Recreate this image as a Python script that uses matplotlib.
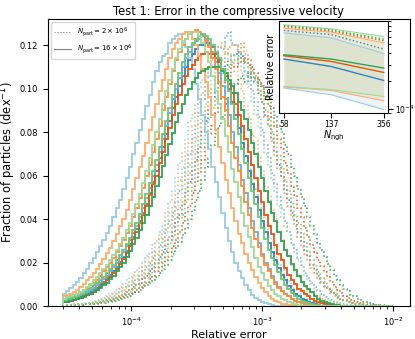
import numpy as np
import matplotlib.pyplot as plt
from matplotlib.lines import Line2D

# histogram bins (relative error), shared by all curves
n_bins = 100
err_min, err_max = 3e-5, 1e-2

# colours: kernel (blue / orange / green), shade = N_ngh (dark 58, mid 137, light 356)
colors = {
    'blue': ['#3182bd', '#6baed6', '#9ecae1'],
    'orange': ['#e6550d', '#fd8d3c', '#fdae6b'],
    'green': ['#31a354', '#74c476', '#a1d99b'],
}

# N_part = 16e6 (solid), fraction per dex in each bin, trailing zeros dropped
hi_blue_356 = [0.0055, 0.0068, 0.0083, 0.0098, 0.0113, 0.013, 0.015, 0.017, 0.0198, 0.0223, 0.0248, 0.0275,
               0.0305, 0.0338, 0.037, 0.041, 0.045, 0.049, 0.054, 0.059, 0.064, 0.070, 0.075, 0.081, 0.086, 0.092,
               0.097, 0.103, 0.108, 0.112, 0.115, 0.116, 0.121, 0.123, 0.124, 0.125, 0.122, 0.119, 0.114, 0.109,
               0.102, 0.095, 0.088, 0.080, 0.072, 0.064, 0.057, 0.050, 0.043, 0.036, 0.030, 0.025, 0.020, 0.016,
               0.013, 0.0095, 0.0073, 0.0053, 0.0038, 0.0026, 0.0019, 0.0013, 0.0009, 0.0005]
hi_orange_356 = [0.0045, 0.005, 0.0057, 0.0065, 0.0075, 0.0088, 0.0103, 0.0118, 0.0133, 0.015, 0.017, 0.0193,
                 0.0218, 0.0243, 0.0268, 0.0298, 0.0333, 0.0368, 0.040, 0.044, 0.049, 0.054, 0.059, 0.064, 0.069,
                 0.075, 0.081, 0.087, 0.093, 0.099, 0.104, 0.109, 0.114, 0.118, 0.121, 0.123, 0.125, 0.126, 0.126,
                 0.123, 0.120, 0.115, 0.109, 0.103, 0.096, 0.088, 0.081, 0.073, 0.066, 0.058, 0.052, 0.045, 0.039,
                 0.033, 0.029, 0.024, 0.020, 0.0165, 0.0135, 0.0108, 0.0083, 0.0063, 0.0048, 0.0035, 0.0025,
                 0.0018, 0.0012, 0.0009, 0.0006, 0.0004]
hi_green_356 = [0.0035, 0.004, 0.0047, 0.0053, 0.0058, 0.0065, 0.0075, 0.0088, 0.0103, 0.0118, 0.0133, 0.015,
                0.017, 0.019, 0.021, 0.0233, 0.0258, 0.0285, 0.0315, 0.0348, 0.0383, 0.0423, 0.0468, 0.0515,
                0.0565, 0.062, 0.068, 0.074, 0.080, 0.086, 0.093, 0.099, 0.104, 0.109, 0.114, 0.118, 0.121, 0.123,
                0.125, 0.126, 0.126, 0.124, 0.121, 0.117, 0.112, 0.106, 0.099, 0.093, 0.086, 0.078, 0.071, 0.063,
                0.057, 0.050, 0.043, 0.037, 0.032, 0.027, 0.022, 0.018, 0.015, 0.0118, 0.0093, 0.0073, 0.0058,
                0.0045, 0.0035, 0.0026, 0.0019, 0.0013, 0.0009, 0.0005]
hi_blue_137 = [0.0026, 0.003, 0.0033, 0.0038, 0.0043, 0.0049, 0.0056, 0.0065, 0.0075, 0.0085, 0.0095, 0.0108,
               0.0123, 0.014, 0.016, 0.018, 0.020, 0.0223, 0.0248, 0.0275, 0.0305, 0.0338, 0.037, 0.041, 0.045,
               0.0495, 0.0545, 0.060, 0.065, 0.071, 0.077, 0.083, 0.089, 0.095, 0.100, 0.105, 0.110, 0.114, 0.117,
               0.120, 0.122, 0.123, 0.124, 0.123, 0.120, 0.117, 0.112, 0.107, 0.101, 0.095, 0.088, 0.080, 0.073,
               0.065, 0.058, 0.052, 0.045, 0.039, 0.034, 0.029, 0.024, 0.020, 0.017, 0.0138, 0.0113, 0.009, 0.007,
               0.0055, 0.0045, 0.0035, 0.0025, 0.0018, 0.0013, 0.0009, 0.0006, 0.0004]
hi_orange_137 = [0.0035, 0.004, 0.0047, 0.0053, 0.0058, 0.0065, 0.0075, 0.0085, 0.0095, 0.0108, 0.012, 0.014,
                 0.016, 0.018, 0.020, 0.0223, 0.0248, 0.0275, 0.0305, 0.0338, 0.037, 0.041, 0.045, 0.0495, 0.0545,
                 0.060, 0.065, 0.071, 0.077, 0.083, 0.090, 0.096, 0.102, 0.108, 0.113, 0.117, 0.120, 0.123, 0.125,
                 0.126, 0.127, 0.126, 0.125, 0.122, 0.119, 0.114, 0.109, 0.103, 0.096, 0.090, 0.083, 0.075, 0.068,
                 0.062, 0.055, 0.048, 0.042, 0.036, 0.031, 0.027, 0.023, 0.019, 0.016, 0.0128, 0.010, 0.0083,
                 0.0068, 0.0055, 0.0045, 0.0035, 0.0025, 0.0018, 0.0013, 0.0009, 0.0006, 0.0004]
hi_green_137 = [0.0026, 0.0031, 0.0037, 0.0043, 0.0048, 0.0055, 0.0065, 0.0075, 0.0085, 0.0095, 0.0105, 0.0118,
                0.0133, 0.015, 0.017, 0.019, 0.021, 0.0233, 0.0258, 0.0285, 0.0315, 0.0348, 0.0383, 0.0423,
                0.0468, 0.0515, 0.0565, 0.062, 0.067, 0.073, 0.079, 0.085, 0.091, 0.097, 0.102, 0.107, 0.112,
                0.116, 0.119, 0.121, 0.123, 0.124, 0.125, 0.124, 0.123, 0.120, 0.117, 0.114, 0.109, 0.104, 0.099,
                0.093, 0.086, 0.079, 0.072, 0.066, 0.059, 0.053, 0.047, 0.041, 0.036, 0.031, 0.026, 0.022, 0.019,
                0.0155, 0.0125, 0.0095, 0.008, 0.006, 0.0048, 0.0033, 0.0025, 0.0018, 0.0013, 0.0009, 0.0006,
                0.0004]
hi_blue_58 = [0.0018, 0.0021, 0.0026, 0.003, 0.0035, 0.004, 0.0047, 0.0055, 0.0065, 0.0075, 0.0085, 0.0098,
              0.0113, 0.0128, 0.0143, 0.016, 0.018, 0.0203, 0.0228, 0.0255, 0.0285, 0.0318, 0.0353, 0.039, 0.043,
              0.047, 0.052, 0.057, 0.062, 0.068, 0.073, 0.079, 0.085, 0.091, 0.096, 0.101, 0.106, 0.110, 0.113,
              0.116, 0.118, 0.120, 0.120, 0.121, 0.121, 0.119, 0.116, 0.113, 0.109, 0.104, 0.100, 0.094, 0.088,
              0.082, 0.075, 0.069, 0.062, 0.056, 0.050, 0.044, 0.039, 0.034, 0.029, 0.025, 0.021, 0.0175, 0.0145,
              0.0118, 0.0093, 0.0073, 0.0058, 0.0045, 0.0035, 0.0026, 0.0019, 0.0013, 0.0009, 0.0005]
hi_orange_58 = [0.0018, 0.002, 0.0024, 0.0028, 0.0033, 0.0039, 0.0046, 0.0053, 0.0058, 0.0065, 0.0075, 0.0088,
                0.0103, 0.0118, 0.0133, 0.015, 0.017, 0.0193, 0.0218, 0.0245, 0.0275, 0.031, 0.034, 0.038, 0.042,
                0.046, 0.051, 0.056, 0.060, 0.066, 0.071, 0.077, 0.082, 0.088, 0.093, 0.097, 0.102, 0.106, 0.109,
                0.111, 0.113, 0.115, 0.116, 0.117, 0.116, 0.116, 0.114, 0.112, 0.109, 0.106, 0.102, 0.098, 0.093,
                0.088, 0.083, 0.077, 0.071, 0.065, 0.059, 0.053, 0.048, 0.042, 0.037, 0.033, 0.028, 0.024, 0.021,
                0.0175, 0.0145, 0.012, 0.010, 0.008, 0.0068, 0.0055, 0.0045, 0.0035, 0.0025, 0.0018, 0.0013,
                0.0009, 0.0006, 0.0004]
hi_green_58 = [0.0018, 0.002, 0.0024, 0.0027, 0.0031, 0.0036, 0.0042, 0.0049, 0.0056, 0.0065, 0.0075, 0.0085,
               0.0095, 0.0108, 0.0123, 0.014, 0.016, 0.018, 0.020, 0.0225, 0.0255, 0.0285, 0.0315, 0.0348, 0.0383,
               0.042, 0.046, 0.050, 0.055, 0.0595, 0.0645, 0.0695, 0.0745, 0.0795, 0.0845, 0.089, 0.093, 0.097,
               0.100, 0.103, 0.105, 0.107, 0.108, 0.109, 0.110, 0.110, 0.110, 0.110, 0.108, 0.107, 0.104, 0.101,
               0.098, 0.094, 0.090, 0.086, 0.081, 0.075, 0.070, 0.064, 0.059, 0.053, 0.048, 0.043, 0.039, 0.034,
               0.030, 0.026, 0.023, 0.0195, 0.0165, 0.0138, 0.0113, 0.0093, 0.0078, 0.0063, 0.0048, 0.0035,
               0.0025, 0.0018, 0.0013, 0.0009, 0.0006, 0.0004]

# N_part = 2e6 (dotted)
lo_blue_356 = [0.0004, 0.0006, 0.0007, 0.0009, 0.0009, 0.0012, 0.0014, 0.0016, 0.0019, 0.0023, 0.0028, 0.0033,
               0.0038, 0.0047, 0.0055, 0.0066, 0.0075, 0.0087, 0.0102, 0.0118, 0.0135, 0.0143, 0.0165, 0.018,
               0.020, 0.023, 0.024, 0.028, 0.030, 0.034, 0.037, 0.043, 0.048, 0.053, 0.059, 0.066, 0.071, 0.077,
               0.085, 0.088, 0.093, 0.100, 0.104, 0.108, 0.106, 0.113, 0.110, 0.112, 0.108, 0.103, 0.103, 0.096,
               0.090, 0.083, 0.080, 0.071, 0.065, 0.058, 0.054, 0.047, 0.041, 0.036, 0.032, 0.027, 0.023, 0.0195,
               0.0165, 0.0135, 0.0115, 0.0092, 0.0075, 0.0058, 0.0043, 0.0034, 0.0027, 0.0021, 0.0016, 0.0012,
               0.0009, 0.0006, 0.0004, 0.0003]
lo_orange_356 = [0.0004, 0.0006, 0.0006, 0.0008, 0.0009, 0.0011, 0.0012, 0.0015, 0.0016, 0.0021, 0.0023, 0.0029,
                 0.0032, 0.004, 0.0045, 0.0056, 0.0066, 0.0077, 0.0085, 0.0097, 0.0112, 0.0128, 0.0142, 0.016,
                 0.0178, 0.0205, 0.0225, 0.0255, 0.029, 0.031, 0.034, 0.039, 0.043, 0.046, 0.051, 0.058, 0.064,
                 0.070, 0.075, 0.083, 0.089, 0.094, 0.098, 0.106, 0.110, 0.114, 0.113, 0.119, 0.121, 0.117, 0.116,
                 0.112, 0.108, 0.102, 0.099, 0.092, 0.087, 0.079, 0.076, 0.068, 0.062, 0.055, 0.051, 0.044, 0.040,
                 0.034, 0.031, 0.026, 0.023, 0.019, 0.0163, 0.0135, 0.011, 0.0088, 0.0075, 0.0063, 0.0049, 0.0041,
                 0.0032, 0.0026, 0.0019, 0.0015, 0.0011, 0.0008, 0.0005, 0.0004]
lo_green_356 = [0.0003, 0.0005, 0.0005, 0.0007, 0.0007, 0.0009, 0.001, 0.0012, 0.0014, 0.0017, 0.0019, 0.0024,
                0.0027, 0.0034, 0.0037, 0.0046, 0.0055, 0.0066, 0.0075, 0.0086, 0.0095, 0.011, 0.0123, 0.014,
                0.0152, 0.017, 0.019, 0.0215, 0.024, 0.027, 0.029, 0.034, 0.037, 0.041, 0.045, 0.049, 0.055, 0.061,
                0.065, 0.071, 0.077, 0.084, 0.088, 0.093, 0.099, 0.104, 0.107, 0.111, 0.113, 0.116, 0.113, 0.115,
                0.115, 0.111, 0.107, 0.102, 0.100, 0.094, 0.088, 0.082, 0.078, 0.070, 0.064, 0.058, 0.053, 0.046,
                0.041, 0.037, 0.034, 0.028, 0.025, 0.021, 0.018, 0.0145, 0.0125, 0.0103, 0.0085, 0.0068, 0.0053,
                0.0042, 0.0032, 0.0025, 0.0021, 0.0016, 0.0011, 0.0008, 0.0005, 0.0004]
lo_blue_137 = [0.0003, 0.0005, 0.0005, 0.0007, 0.0008, 0.001, 0.0011, 0.0014, 0.0015, 0.0019, 0.0021, 0.0026,
               0.0028, 0.0033, 0.0037, 0.0046, 0.0055, 0.0066, 0.0075, 0.0086, 0.0095, 0.0108, 0.0125, 0.014,
               0.016, 0.018, 0.020, 0.022, 0.025, 0.028, 0.031, 0.035, 0.039, 0.043, 0.048, 0.053, 0.058, 0.064,
               0.070, 0.077, 0.083, 0.089, 0.095, 0.101, 0.106, 0.111, 0.113, 0.119, 0.118, 0.124, 0.126, 0.121,
               0.120, 0.116, 0.115, 0.108, 0.106, 0.099, 0.094, 0.087, 0.081, 0.074, 0.068, 0.061, 0.056, 0.050,
               0.045, 0.039, 0.034, 0.029, 0.026, 0.022, 0.019, 0.015, 0.013, 0.0105, 0.0088, 0.007, 0.0055,
               0.0043, 0.0033, 0.0026, 0.0021, 0.0016, 0.0011, 0.0008, 0.0005, 0.0004]
lo_orange_137 = [0.0003, 0.0004, 0.0005, 0.0006, 0.0006, 0.0008, 0.0009, 0.0011, 0.0013, 0.0016, 0.0017, 0.0021,
                 0.0023, 0.0028, 0.0032, 0.0039, 0.0046, 0.0053, 0.0057, 0.0066, 0.0075, 0.0088, 0.0103, 0.0118,
                 0.0133, 0.015, 0.017, 0.019, 0.021, 0.0235, 0.027, 0.030, 0.032, 0.037, 0.041, 0.045, 0.048, 0.054,
                 0.061, 0.066, 0.071, 0.078, 0.085, 0.090, 0.094, 0.100, 0.106, 0.110, 0.112, 0.116, 0.119, 0.120,
                 0.120, 0.117, 0.121, 0.116, 0.113, 0.108, 0.106, 0.099, 0.094, 0.087, 0.083, 0.076, 0.069, 0.063,
                 0.059, 0.052, 0.046, 0.041, 0.037, 0.032, 0.027, 0.024, 0.021, 0.0175, 0.015, 0.0125, 0.0105,
                 0.0088, 0.0073, 0.006, 0.0048, 0.0038, 0.0031, 0.0025, 0.0019, 0.0015, 0.0011, 0.0008, 0.0005,
                 0.0004]
lo_green_137 = [0.0003, 0.0004, 0.0004, 0.0006, 0.0006, 0.0008, 0.0008, 0.001, 0.0011, 0.0014, 0.0015, 0.0018,
                0.002, 0.0025, 0.0028, 0.0033, 0.0037, 0.0044, 0.0047, 0.0056, 0.0065, 0.0075, 0.0085, 0.0098,
                0.0113, 0.0128, 0.0143, 0.016, 0.018, 0.0205, 0.0225, 0.0255, 0.029, 0.032, 0.035, 0.040, 0.042,
                0.048, 0.053, 0.057, 0.063, 0.069, 0.075, 0.079, 0.086, 0.091, 0.095, 0.101, 0.103, 0.108, 0.110,
                0.112, 0.113, 0.115, 0.114, 0.112, 0.110, 0.107, 0.104, 0.099, 0.095, 0.090, 0.086, 0.080, 0.075,
                0.069, 0.064, 0.058, 0.053, 0.047, 0.042, 0.038, 0.033, 0.029, 0.025, 0.021, 0.0185, 0.0155, 0.013,
                0.011, 0.0088, 0.007, 0.0058, 0.0045, 0.0035, 0.0027, 0.0021, 0.0016, 0.0011, 0.0008, 0.0005,
                0.0004]
lo_blue_58 = [0.0003, 0.0004, 0.0004, 0.0006, 0.0006, 0.0008, 0.0009, 0.0011, 0.0012, 0.0015, 0.0017, 0.002,
              0.0022, 0.0026, 0.0028, 0.0033, 0.0037, 0.0046, 0.0055, 0.0066, 0.0075, 0.0086, 0.0095, 0.0108,
              0.0123, 0.014, 0.016, 0.018, 0.020, 0.0225, 0.0248, 0.0275, 0.0305, 0.034, 0.038, 0.042, 0.047,
              0.052, 0.057, 0.062, 0.067, 0.073, 0.080, 0.085, 0.090, 0.096, 0.100, 0.104, 0.107, 0.111, 0.113,
              0.115, 0.116, 0.117, 0.115, 0.112, 0.111, 0.107, 0.103, 0.098, 0.094, 0.088, 0.083, 0.077, 0.071,
              0.065, 0.060, 0.054, 0.049, 0.043, 0.039, 0.034, 0.030, 0.026, 0.023, 0.019, 0.0165, 0.0138, 0.0113,
              0.0093, 0.0078, 0.0063, 0.0051, 0.0041, 0.0034, 0.0027, 0.0019, 0.0015, 0.0011, 0.0008, 0.0005,
              0.0004]
lo_orange_58 = [0.0003, 0.0003, 0.0004, 0.0005, 0.0005, 0.0007, 0.0007, 0.0009, 0.001, 0.0012, 0.0014, 0.0017,
                0.0018, 0.0022, 0.0025, 0.0029, 0.0033, 0.0038, 0.0042, 0.0049, 0.0056, 0.0065, 0.0075, 0.0085,
                0.0095, 0.0108, 0.0123, 0.014, 0.016, 0.018, 0.020, 0.0225, 0.0248, 0.0275, 0.0305, 0.034, 0.038,
                0.043, 0.046, 0.052, 0.057, 0.061, 0.067, 0.073, 0.079, 0.083, 0.089, 0.095, 0.099, 0.103, 0.106,
                0.111, 0.110, 0.114, 0.112, 0.114, 0.111, 0.110, 0.107, 0.104, 0.101, 0.096, 0.092, 0.087, 0.083,
                0.077, 0.072, 0.066, 0.061, 0.055, 0.051, 0.045, 0.041, 0.036, 0.032, 0.028, 0.025, 0.021, 0.0185,
                0.0155, 0.0133, 0.011, 0.009, 0.0073, 0.006, 0.0048, 0.0039, 0.003, 0.0023, 0.0017, 0.0013, 0.001,
                0.0007, 0.0005, 0.0003, 0.0003]
lo_green_58 = [0.0003, 0.0003, 0.0004, 0.0004, 0.0005, 0.0006, 0.0007, 0.0008, 0.0009, 0.0011, 0.0012, 0.0014,
               0.0016, 0.0019, 0.0021, 0.0025, 0.0028, 0.0033, 0.0037, 0.0043, 0.0048, 0.0055, 0.0065, 0.0075,
               0.0085, 0.0095, 0.0105, 0.0118, 0.0133, 0.015, 0.017, 0.019, 0.021, 0.024, 0.0265, 0.0295, 0.0325,
               0.036, 0.040, 0.044, 0.049, 0.053, 0.058, 0.064, 0.068, 0.074, 0.079, 0.083, 0.087, 0.093, 0.096,
               0.100, 0.102, 0.104, 0.106, 0.103, 0.107, 0.105, 0.105, 0.102, 0.101, 0.098, 0.096, 0.091, 0.088,
               0.083, 0.080, 0.074, 0.070, 0.064, 0.060, 0.054, 0.050, 0.046, 0.041, 0.037, 0.033, 0.029, 0.026,
               0.0225, 0.0195, 0.0165, 0.014, 0.012, 0.0098, 0.008, 0.0068, 0.0053, 0.0045, 0.0035, 0.0028,
               0.0021, 0.0017, 0.0013, 0.0009, 0.0007, 0.0004, 0.0003, 0.0002, 0.0002]

hist_hi = {
    'blue': [hi_blue_58, hi_blue_137, hi_blue_356],
    'orange': [hi_orange_58, hi_orange_137, hi_orange_356],
    'green': [hi_green_58, hi_green_137, hi_green_356],
}
hist_lo = {
    'blue': [lo_blue_58, lo_blue_137, lo_blue_356],
    'orange': [lo_orange_58, lo_orange_137, lo_orange_356],
    'green': [lo_green_58, lo_green_137, lo_green_356],
}

# inset: error vs number of neighbours
n_ngh = [58, 137, 356]
med_hi = {'blue': [3.47e-4, 2.88e-4, 2.03e-4],
          'orange': [3.77e-4, 3.27e-4, 2.48e-4],
          'green': [3.86e-4, 3.47e-4, 2.77e-4]}
med_lo = {'blue': [7.1e-4, 6.4e-4, 4.46e-4],
          'orange': [7.8e-4, 7.0e-4, 5.5e-4],
          'green': [8.0e-4, 7.2e-4, 5.7e-4]}
band_lo = {'blue': [1.68e-4, 1.42e-4, 0.98e-4],
           'orange': [1.72e-4, 1.58e-4, 1.22e-4],
           'green': [1.75e-4, 1.61e-4, 1.36e-4]}
band_hi = {'blue': [6.7e-4, 5.9e-4, 4.0e-4],
           'orange': [7.5e-4, 6.8e-4, 5.2e-4],
           'green': [8.2e-4, 7.4e-4, 6.1e-4]}


def padded(v):
    return np.pad(np.array(v, dtype=float), (0, n_bins - len(v)))


edges = np.logspace(np.log10(err_min), np.log10(err_max), n_bins + 1)

fig = plt.figure(figsize=(4.15, 3.39), dpi=100)
ax = fig.add_axes([0.115, 0.097, 0.873, 0.847])

for kernel in ['blue', 'orange', 'green']:
    for j in range(3):
        ax.stairs(padded(hist_lo[kernel][j]), edges, color=colors[kernel][j], lw=1.1, linestyle=':')
for kernel in ['blue', 'orange', 'green']:
    for j in range(3):
        ax.stairs(padded(hist_hi[kernel][j]), edges, color=colors[kernel][j], lw=1.3)

ax.set_xscale('log')
ax.set_xlim(2.3e-5, 1.35e-2)
ax.set_ylim(0, 0.132)
ax.set_yticks(np.arange(0, 0.121, 0.02))
ax.tick_params(labelsize=6)
ax.set_xlabel('Relative error', fontsize=8, labelpad=1)
ax.set_ylabel('Fraction of particles (dex$^{-1}$)', fontsize=8.3, labelpad=1)
ax.set_title('Test 1: Error in the compressive velocity', fontsize=8.3, pad=3)

handles = [Line2D([], [], color='grey', lw=0.8, linestyle=':'),
           Line2D([], [], color='grey', lw=0.8)]
ax.legend(handles, [r'$N_\mathrm{part} = 2\times10^6$', r'$N_\mathrm{part} = 16\times10^6$'],
          loc='upper left', fontsize=5, handlelength=2.5)

# inset
axi = fig.add_axes([0.672, 0.667, 0.263, 0.271])
for kernel in ['blue', 'orange', 'green']:
    dark, mid, light = colors[kernel]
    axi.fill_between(n_ngh, band_lo[kernel], band_hi[kernel], color=light, alpha=0.2, lw=0)
    axi.plot(n_ngh, band_lo[kernel], color=light, lw=0.8)
    axi.plot(n_ngh, band_hi[kernel], color=light, lw=0.8)
    axi.plot(n_ngh, med_lo[kernel], color=dark, lw=1.0, linestyle=':')
    axi.plot(n_ngh, med_hi[kernel], color=dark, lw=1.0)
axi.set_xscale('log')
axi.set_yscale('log')
axi.set_xlim(53, 385)
axi.set_ylim(9e-5, 9e-4)
axi.set_xticks(n_ngh)
axi.set_xticklabels([str(n) for n in n_ngh])
axi.xaxis.set_minor_locator(plt.NullLocator())
axi.yaxis.tick_right()
axi.yaxis.set_label_position('left')
axi.tick_params(labelsize=5.5, pad=1.5)
axi.tick_params(which='minor', labelright=False)
axi.set_xlabel(r'$N_\mathrm{ngh}$', fontsize=7, labelpad=0)
axi.set_ylabel('Relative error', fontsize=7, labelpad=2)

fig.savefig('out.png', dpi=100)
